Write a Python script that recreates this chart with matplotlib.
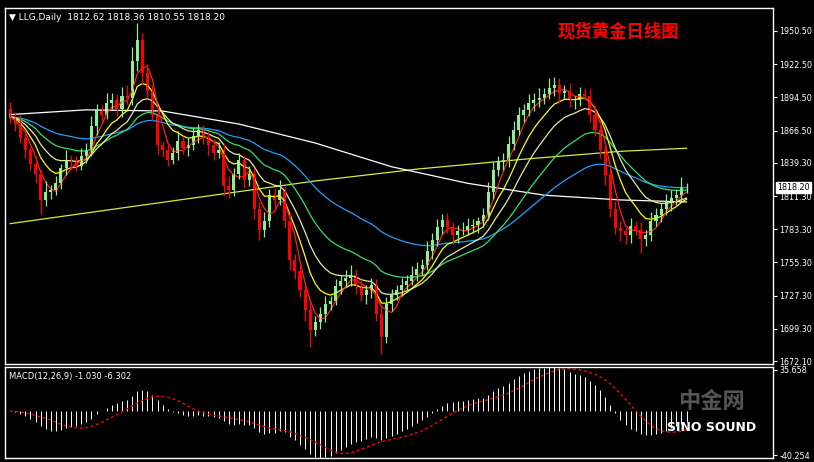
import numpy as np, pandas as pd
import matplotlib
matplotlib.use("Agg")
import matplotlib.pyplot as plt
from matplotlib.patches import Rectangle

plt.rcParams['font.family'] = ['DejaVu Sans', 'Noto Sans CJK SC']

closes = [1878,1872,1860,1850,1838,1830,1808,1815,1816,1822,1835,1842,1840,1837,1845,1850,1870,1884,1880,1890,
          1892,1885,1896,1894,1925,1943,1915,1900,1880,1854,1850,1842,1848,1858,1852,1854,1862,1867,1860,1854,
          1848,1850,1820,1816,1830,1842,1825,1830,1800,1783,1790,1812,1808,1816,1790,1757,1748,1732,1715,1698,
          1705,1712,1720,1723,1735,1740,1742,1745,1735,1728,1732,1736,1712,1692,1720,1728,1732,1736,1740,1745,
          1750,1753,1765,1774,1785,1791,1785,1778,1782,1783,1786,1787,1790,1795,1815,1833,1840,1842,1855,1867,
          1880,1884,1890,1892,1894,1897,1902,1905,1898,1900,1892,1892,1897,1896,1880,1867,1850,1829,1800,1784,
          1782,1778,1786,1783,1775,1778,1790,1795,1800,1806,1810,1812,1818,1818.2]
first_open = 1885
wick_up = [6,4,8,5,3,7,4,9,5,6,3,8,4,5,7,6,9,5,4,8,6,5,7,9,12,14,6,8,5,7,4,6,5,8,4,6,7,5,4,6,
           5,7,6,8,5,6,4,7,5,6,8,5,6,9,4,7,5,6,4,8,5,6,7,4,6,5,7,8,5,6,4,6,5,7,6,5,4,6,5,7,
           6,5,8,6,7,5,6,4,5,6,7,5,4,6,8,7,5,6,7,8,6,5,7,6,8,5,9,7,6,5,7,4,6,5,6,7,8,6,5,7,
           6,5,7,4,6,5,8,6,5,7,6,5,9,4]
wick_dn = [5,6,4,7,5,8,12,5,6,4,5,6,7,5,4,6,5,7,6,4,5,6,7,5,6,8,9,6,5,7,6,5,4,6,5,7,4,6,5,8,
           6,5,9,6,5,4,7,5,8,9,6,5,7,4,6,8,7,6,9,14,5,6,7,5,4,6,5,7,6,5,8,7,6,14,5,6,4,5,6,4,
           5,6,4,7,5,6,5,7,6,4,5,6,7,5,4,6,5,7,6,5,4,6,5,7,6,5,4,6,8,5,6,7,5,4,6,5,7,8,6,5,
           9,7,6,5,12,6,5,4,6,5,7,6,5,4]
ma200_idx = [0, 20, 40, 60, 80, 100, 120, 135]
ma200_val = [1788, 1800, 1812, 1824, 1834, 1842, 1849, 1852]
ma100_idx = [0, 15, 30, 45, 60, 75, 90, 105, 120, 135]
ma100_val = [1880, 1884, 1883, 1872, 1856, 1836, 1822, 1812, 1808, 1806]
price_ticks = [1950.50,1922.50,1894.50,1866.50,1839.30,1811.30,1783.30,1755.30,1727.30,1699.30,1672.10]

c = np.array(closes, float)
o = np.concatenate([[first_open], c[:-1]])
h = np.maximum(o, c) + np.array(wick_up)
l = np.minimum(o, c) - np.array(wick_dn)
N = len(c)
x = np.arange(N)
s = pd.Series(c)

W, H = 814, 462
fig = plt.figure(figsize=(W/100, H/100), dpi=100, facecolor='black')
def ax_px(l_, t, r, b):
    return fig.add_axes([l_/W, 1-b/H, (r-l_)/W, (b-t)/H])
ax = ax_px(5, 8, 773, 364)
ax2 = ax_px(5, 367, 773, 458)
for a in (ax, ax2):
    a.set_facecolor('black')
    for sp in a.spines.values():
        sp.set_color('white'); sp.set_linewidth(1)
    a.set_xticks([])
    a.yaxis.tick_right()
    a.tick_params(axis='y', colors='white', labelsize=5.8, length=3, pad=1.5)
    a.set_xlim(-1, N + 16)

ax.plot(x, np.interp(x, ma200_idx, ma200_val), color='#c8f040', lw=0.9)
ax.plot(x, np.interp(x, ma100_idx, ma100_val), color='white', lw=0.9)
ax.plot(x, s.ewm(span=50, adjust=False).mean(), color='#1ea0ff', lw=0.9)
ax.plot(x, s.ewm(span=25, adjust=False).mean(), color='#30e070', lw=0.9)
ax.plot(x, s.ewm(span=14, adjust=False).mean(), color='#e8e8a0', lw=0.9)
ax.plot(x, s.ewm(span=8, adjust=False).mean(), color='#ffff00', lw=0.9)
ax.plot(x, s.rolling(4, min_periods=1).mean(), color='#ff2020', lw=0.9)

for i in range(N):
    col = '#90ee90' if c[i] >= o[i] else '#ff0000'
    ax.vlines(x[i], l[i], h[i], color=col, lw=0.9)
    ax.add_patch(Rectangle((x[i]-0.3, min(o[i], c[i])), 0.6, max(abs(c[i]-o[i]), 0.5), color=col, lw=0))

ax.set_ylim(1669.6, 1969.9)
ax.set_yticks(price_ticks)
ax.set_yticklabels([f"{v:.2f}" for v in price_ticks])
ax.text(1.005, (1818.2-1669.6)/(1969.9-1669.6), "1818.20", transform=ax.transAxes, color='black',
        fontsize=5.8, va='center', ha='left',
        bbox=dict(facecolor='white', edgecolor='white', pad=0.8), clip_on=False)
ax.text(0.005, 0.985, "▼ LLG,Daily  1812.62 1818.36 1810.55 1818.20", transform=ax.transAxes,
        color='white', fontsize=6.5, va='top')
ax.text(0.72, 0.92, "现货黄金日线图", transform=ax.transAxes, color='red', fontsize=12.5,
        fontweight='bold', family=['Noto Sans CJK SC'])

macd = s.ewm(span=12, adjust=False).mean() - s.ewm(span=26, adjust=False).mean()
sig = macd.rolling(9, min_periods=1).mean()
ax2.vlines(x, 0, macd, color='white', lw=0.7)
ax2.plot(x, sig, color='red', lw=1, ls=(0, (2, 2)))
ax2.set_ylim(-37, 35)
ax2.set_yticks([33, -35])
ax2.set_yticklabels(["35.658", "-40.254"])
ax2.text(0.005, 0.95, "MACD(12,26,9) -1.030 -6.302", transform=ax2.transAxes, color='white',
         fontsize=6, va='top')
ax2.text(0.92, 0.55, "中金网", transform=ax2.transAxes, color='#555555', fontsize=16,
         family=['Noto Sans CJK SC'], ha='center', fontweight='bold')
ax2.text(0.92, 0.3, "SINO SOUND", transform=ax2.transAxes, color='white', fontsize=9,
         ha='center', fontweight='bold')

fig.savefig("out.png", dpi=100, facecolor='black')
